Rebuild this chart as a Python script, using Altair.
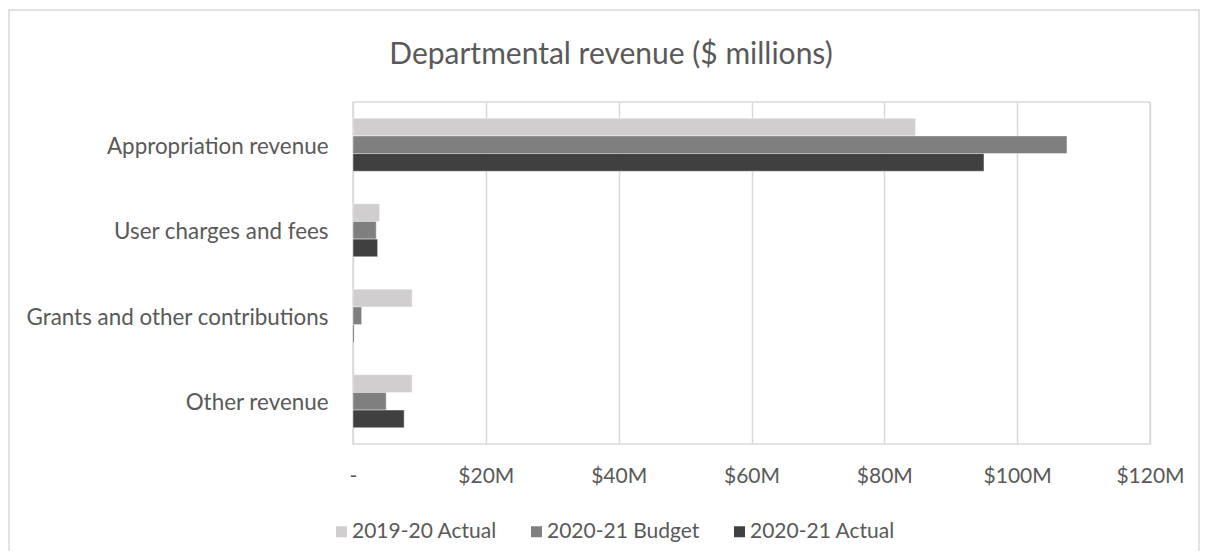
import altair as alt
import pandas as pd

categories = ["Appropriation revenue", "User charges and fees",
              "Grants and other contributions", "Other revenue\u00a0"]
series = ["2019-20 Actual", "2020-21 Budget", "2020-21 Actual"]
actual_1920 = [84.7, 4.0, 8.9, 8.9]
budget_2021 = [107.5, 3.5, 1.3, 5.0]
actual_2021 = [95.0, 3.7, 0.15, 7.7]
colors = ["#D0CECE", "#7F7F7F", "#404040"]
x_ticks = [0, 20, 40, 60, 80, 100, 120]
title_text = "Departmental revenue ($ millions)"

rows = []
for s, vals in zip(series, [actual_1920, budget_2021, actual_2021]):
    for c, v in zip(categories, vals):
        rows.append({"category": c, "series": s, "value": v})
df = pd.DataFrame(rows)

FONT = "Lato"
TXT = "#595959"
GRID = "#D9D9D9"

border = alt.Chart(pd.DataFrame({"a": [0]})).mark_rect(
    fill="white", fillOpacity=0, stroke=GRID, strokeWidth=1.5
).encode(
    x=alt.value(-344), x2=alt.value(846),
    y=alt.value(-92), y2=alt.value(460)
)

title = alt.Chart(pd.DataFrame({"t": [title_text]})).mark_text(
    font=FONT, fontSize=30, color=TXT, align="center", baseline="middle"
).encode(
    text="t:N", x=alt.value(258), y=alt.value(-47)
)

bars = alt.Chart(df).mark_bar(stroke="white", strokeWidth=0.6, strokeOpacity=0.7).encode(
    y=alt.Y("category:N", sort=categories,
            scale=alt.Scale(paddingInner=0.38, paddingOuter=0.19),
            axis=alt.Axis(title=None, domain=False, ticks=False, labelFontSize=22.4,
                          labelFont=FONT, labelColor=TXT, labelPadding=25,
                          labelOffset=2, labelLimit=400)),
    yOffset=alt.YOffset("series:N", sort=series, scale=alt.Scale(paddingInner=0, paddingOuter=0)),
    x=alt.X("value:Q", scale=alt.Scale(domain=[0, 120], nice=False),
            axis=alt.Axis(title=None, values=x_ticks, domain=False, ticks=False,
                          grid=True, gridColor=GRID, gridWidth=1.5,
                          labelFontSize=21, labelFont=FONT, labelColor=TXT,
                          labelPadding=21, labelFlush=False,
                          labelExpr="datum.value == 0 ? '-' : '$' + datum.value + 'M'")),
    color=alt.Color("series:N", sort=series,
                    scale=alt.Scale(domain=series, range=colors),
                    legend=alt.Legend(title=None, orient="none", direction="horizontal",
                                      legendX=-22, legendY=419, symbolType="square",
                                      symbolSize=121, symbolStrokeWidth=0,
                                      labelFontSize=21, labelFont=FONT, labelColor=TXT,
                                      labelOffset=0, columnPadding=29)),
)

chart = alt.layer(border, title, bars).properties(
    width=797, height=342,
    autosize=alt.AutoSizeParams(type="none"),
    padding={"left": 345, "top": 94, "right": 50, "bottom": 107},
).configure_view(stroke=GRID, strokeWidth=1.5)

chart.save("out.html", embed_options={"renderer": "svg", "actions": False})
